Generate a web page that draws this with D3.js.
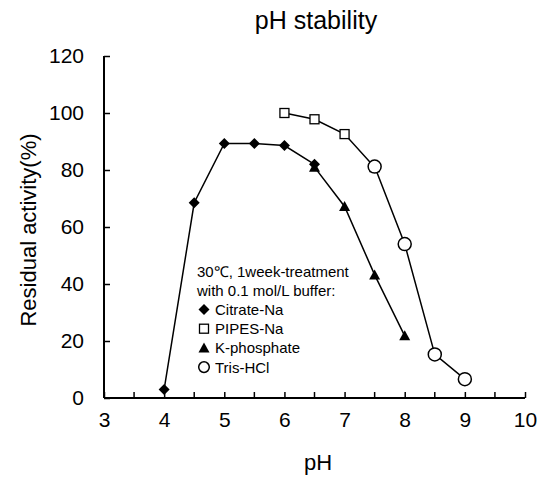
<!DOCTYPE html>
<html lang="en">
<head>
<meta charset="UTF-8">
<title>pH stability</title>
<script src="https://d3js.org/d3.v7.min.js"></script>
<style>
body { margin: 0; background: #fff; }
text { font-family: "Liberation Sans", Arial, sans-serif; fill: #000; }
</style>
</head>
<body>
<div id="chart"></div>
<script>
// pH values and residual activity (%) for each buffer
var citratePH = [4, 4.5, 5, 5.5, 6, 6.5];
var citrateAct = [3, 68.5, 89.3, 89.3, 88.6, 82];
var pipesPH = [6, 6.5, 7, 7.5];
var pipesAct = [100, 97.8, 92.6, 81];
var kphosPH = [6.5, 7, 7.5, 8];
var kphosAct = [81, 67.2, 43.2, 21.8];
var trisPH = [7.5, 8, 8.5, 9];
var trisAct = [81.2, 54, 15.3, 6.6];

var xTicks = [3, 4, 5, 6, 7, 8, 9, 10];
var xMinor = [3.5, 4.5, 5.5, 6.5, 7.5, 8.5, 9.5];
var yTicks = [0, 20, 40, 60, 80, 100, 120];

var legendLines = ["30\u2103, 1week-treatment", "with 0.1  mol/L buffer:"];
var legNames = ["Citrate-Na", "PIPES-Na", "K-phosphate", "Tris-HCl"];

var W = 538, H = 479;
var svg = d3.select("#chart").append("svg")
  .attr("width", W)
  .attr("height", H);

var x = d3.scaleLinear().domain([3, 10]).range([104, 525]);
var y = d3.scaleLinear().domain([0, 120]).range([398, 56]);

// axes, ticks point inward like the excel original
var xAxis = d3.axisBottom(x).tickValues(xTicks).tickSize(-6).tickPadding(14).tickFormat(d3.format("d"));
var yAxis = d3.axisLeft(y).tickValues(yTicks).tickSize(-6).tickPadding(20);

var gx = svg.append("g").attr("transform", "translate(0,398)").call(xAxis);
gx.append("g").selectAll("line").data(xMinor).enter().append("line")
  .attr("x1", function(d){ return x(d); }).attr("x2", function(d){ return x(d); })
  .attr("y1", 0).attr("y2", -6).attr("stroke", "#000").attr("stroke-width", 1.5);

var gy = svg.append("g").attr("transform", "translate(104,0)").call(yAxis);

gx.select(".domain").attr("d", "M" + x(3) + ",0H" + x(10));
gy.select(".domain").attr("d", "M0," + y(120) + "V" + y(0));
[gx, gy].forEach(function(g){
  g.select(".domain").attr("stroke", "#000").attr("stroke-width", 2);
  g.selectAll(".tick line").attr("stroke", "#000").attr("stroke-width", 1.5);
  g.selectAll(".tick text").style("font-size", "21px").style("font-family", "Liberation Sans, Arial, sans-serif");
});

// titles
svg.append("text").attr("x", 316).attr("y", 29).attr("text-anchor", "middle")
  .style("font-size", "25px").text("pH stability");
svg.append("text").attr("x", 318).attr("y", 470).attr("text-anchor", "middle")
  .style("font-size", "22px").text("pH");
svg.append("text").attr("transform", "translate(36,230) rotate(-90)").attr("text-anchor", "middle")
  .style("font-size", "22px").text("Residual activity(%)");

// series
var series = [
  { ph: citratePH, act: citrateAct, shape: "diamond" },
  { ph: pipesPH, act: pipesAct, shape: "square" },
  { ph: kphosPH, act: kphosAct, shape: "triangle" },
  { ph: trisPH, act: trisAct, shape: "circle" }
];

var line = d3.line().x(function(d){ return x(d[0]); }).y(function(d){ return y(d[1]); });

series.forEach(function(s){
  var pts = s.ph.map(function(p, i){ return [p, s.act[i]]; });
  svg.append("path").datum(pts).attr("d", line)
    .attr("fill", "none").attr("stroke", "#000").attr("stroke-width", 1.5);
});

function drawMarker(g, shape, cx, cy, r) {
  if (shape === "diamond") {
    g.append("path").attr("d", "M" + cx + "," + (cy - 5.5) + "L" + (cx + 5.5) + "," + cy + "L" + cx + "," + (cy + 5.5) + "L" + (cx - 5.5) + "," + cy + "Z")
      .attr("fill", "#000");
  } else if (shape === "square") {
    g.append("rect").attr("x", cx - 4.5).attr("y", cy - 4.5).attr("width", 9).attr("height", 9)
      .attr("fill", "#fff").attr("stroke", "#000").attr("stroke-width", 1.3);
  } else if (shape === "triangle") {
    g.append("path").attr("d", "M" + cx + "," + (cy - 5.5) + "L" + (cx + 5.5) + "," + (cy + 4.5) + "L" + (cx - 5.5) + "," + (cy + 4.5) + "Z")
      .attr("fill", "#000");
  } else {
    g.append("circle").attr("cx", cx).attr("cy", cy).attr("r", r || 6.5)
      .attr("fill", "#fff").attr("stroke", "#000").attr("stroke-width", 1.5);
  }
}

var marks = svg.append("g");
series.forEach(function(s){
  s.ph.forEach(function(p, i){ drawMarker(marks, s.shape, x(p), y(s.act[i])); });
});

// legend, typed in the plot as a text box
var leg = svg.append("g");
legendLines.forEach(function(t, i){
  leg.append("text").attr("x", 197).attr("y", 277 + i * 19).style("font-size", "15px").text(t);
});
legNames.forEach(function(n, i){
  var cy = 309.5 + i * 19.2;
  drawMarker(leg, series[i].shape, 204, cy, 5.3);
  leg.append("text").attr("x", 215).attr("y", cy + 5.5).style("font-size", "15px").text(n);
});
</script>
</body>
</html>
